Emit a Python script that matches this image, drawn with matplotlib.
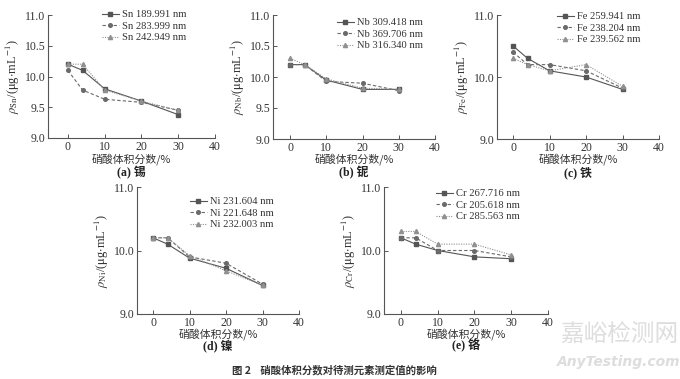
# 硝酸体积分数对待测元素测定值的影响 (five small panels + caption)
import matplotlib
matplotlib.use("Agg")
import matplotlib.pyplot as plt

plt.rcParams['font.family'] = ['Liberation Serif', 'Noto Sans CJK SC', 'DejaVu Sans']
plt.rcParams['mathtext.fontset'] = 'stix'

W, H = 680, 379
CJK = ['Noto Sans CJK SC', 'DejaVu Sans']

x = [0, 4, 10, 20, 30]

sn_names = ['Sn 189.991 nm', 'Sn 283.999 nm', 'Sn 242.949 nm']
sn_vals = [[10.2, 10.1, 9.8, 9.6, 9.38],
           [10.1, 9.78, 9.63, 9.58, 9.45],
           [10.2, 10.2, 9.78, 9.6, 9.45]]

nb_names = ['Nb 309.418 nm', 'Nb 369.706 nm', 'Nb 316.340 nm']
nb_vals = [[10.2, 10.2, 9.95, 9.8, 9.8],
           [10.2, 10.2, 9.93, 9.9, 9.78],
           [10.3, 10.2, 9.97, 9.82, 9.8]]

fe_names = ['Fe 259.941 nm', 'Fe 238.204 nm', 'Fe 239.562 nm']
fe_vals = [[10.5, 10.3, 10.1, 10.0, 9.8],
           [10.4, 10.2, 10.2, 10.1, 9.82],
           [10.3, 10.2, 10.1, 10.2, 9.85]]

ni_names = ['Ni 231.604 nm', 'Ni 221.648 nm', 'Ni 232.003 nm']
ni_vals = [[10.2, 10.1, 9.88, 9.72, 9.45],
           [10.2, 10.2, 9.9, 9.8, 9.47],
           [10.2, 10.2, 9.92, 9.68, 9.45]]

cr_names = ['Cr 267.716 nm', 'Cr 205.618 nm', 'Cr 285.563 nm']
cr_vals = [[10.2, 10.1, 10.0, 9.9, 9.87],
           [10.2, 10.2, 10.0, 10.0, 9.9],
           [10.3, 10.3, 10.1, 10.1, 9.93]]

# pixel layout: axes (left, right, top, bottom, xmin), legend (x, y), xlabel y, subtitle y
panels = [
    ('Sn', '(a) 锡', sn_names, sn_vals, (48, 215, 15, 138, -5.4), (102, 10), 159, 173,
     [9.0, 9.5, 10.0, 10.5, 11.0]),
    ('Nb', '(b) 铌', nb_names, nb_vals, (273, 435, 15, 139, -4.7), (337, 18), 159, 173,
     [9.0, 9.5, 10.0, 10.5, 11.0]),
    ('Fe', '(c) 铁', fe_names, fe_vals, (497, 659, 15, 139, -4.4), (557, 12), 159, 173,
     [9.0, 10.0, 11.0]),
    ('Ni', '(d) 镍', ni_names, ni_vals, (137, 299, 187, 314, -4.4), (190, 197), 334, 346,
     [9.0, 10.0, 11.0]),
    ('Cr', '(e) 铬', cr_names, cr_vals, (384, 548, 187, 314, -4.6), (436, 189), 334, 346,
     [9.0, 10.0, 11.0]),
]

styles = [dict(color='#555555', ls='-', marker='s', ms=3),
          dict(color='#6a6a6a', ls=(0, (3, 2)), marker='o', ms=2.6),
          dict(color='#909090', ls=(0, (1, 1.2)), marker='^', ms=3)]

fig = plt.figure(figsize=(W / 100, H / 100), dpi=100)

for el, sub, names, vals, box, lg, xl_y, sub_y, yt in panels:
    l, r, t, b, xmin = box
    ax = fig.add_axes([l / W, 1 - b / H, (r - l) / W, (b - t) / H])
    for nm, v, st in zip(names, vals, styles):
        ax.plot(x, v, lw=0.8, label=nm, **st)
    ax.set_xlim(xmin, 40)
    ax.set_ylim(9.0, 11.0)
    ax.set_xticks([0, 10, 20, 30, 40])
    ax.set_yticks(yt)
    ax.set_yticklabels(['%.1f' % v for v in yt])
    for s in ['top', 'right']:
        ax.spines[s].set_visible(False)
    for s in ['left', 'bottom']:
        ax.spines[s].set_color('#555555')
        ax.spines[s].set_linewidth(0.8)
    ax.tick_params(direction='in', length=3, width=0.7, colors='#555555',
                   labelsize=8.5, labelcolor='#333333', pad=2)
    ax.set_ylabel(r'$\rho_{\rm %s}$/($\mathrm{\mu}$g$\cdot$mL$^{-1}$)' % el,
                  fontsize=9, color='#333333', labelpad=2)
    cx = (l + r) / 2 / W
    fig.text(cx, 1 - xl_y / H, '硝酸体积分数/%', family=CJK, fontsize=7.8,
             color='#333333', ha='center', va='center')
    fig.text(cx, 1 - sub_y / H, sub, ha='center', va='center',
             fontsize=8.5, fontweight='bold', color='#222222',
             family=['Liberation Serif', 'Noto Sans CJK SC'])
    leg = ax.legend(loc='upper left', bbox_to_anchor=(lg[0] / W, 1 - lg[1] / H),
                    bbox_transform=fig.transFigure, frameon=False,
                    fontsize=7.6, handlelength=1.6, handletextpad=0.25,
                    labelspacing=0.2, borderaxespad=0, borderpad=0)
    for tx in leg.get_texts():
        tx.set_color('#333333')

fig.text(232 / W, 1 - 370 / H, '图 2    硝酸体积分数对待测元素测定值的影响',
         family=CJK, fontsize=7.5, fontweight='bold', color='#333333', va='center')

# site watermark
fig.text(619 / W, 1 - 335 / H, '嘉峪检测网', family=CJK, fontsize=17,
         color='#dddddd', ha='center', va='center')
fig.text(619 / W, 1 - 362 / H, 'AnyTesting.com', family=['DejaVu Sans'], fontsize=10,
         fontweight='bold', style='italic', color='#dddddd', ha='center', va='center')

fig.savefig('out.png', dpi=100)
